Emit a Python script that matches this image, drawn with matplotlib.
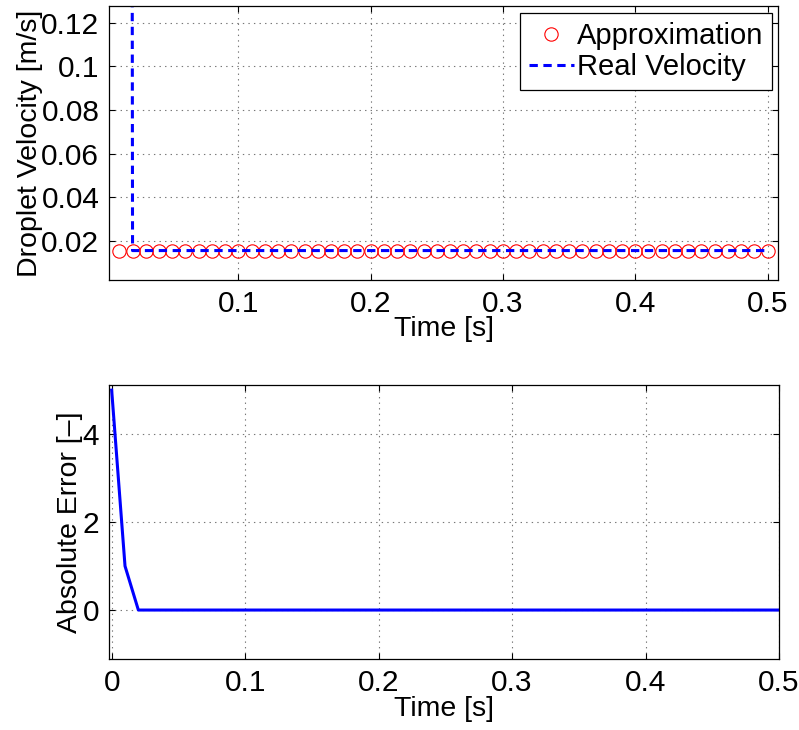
import numpy as np
import matplotlib
matplotlib.use("Agg")
import matplotlib.pyplot as plt

# top plot: approximation vs real velocity
t_top = [0.01, 0.02, 0.03, 0.04, 0.05, 0.06, 0.07, 0.08, 0.09, 0.10,
         0.11, 0.12, 0.13, 0.14, 0.15, 0.16, 0.17, 0.18, 0.19, 0.20,
         0.21, 0.22, 0.23, 0.24, 0.25, 0.26, 0.27, 0.28, 0.29, 0.30,
         0.31, 0.32, 0.33, 0.34, 0.35, 0.36, 0.37, 0.38, 0.39, 0.40,
         0.41, 0.42, 0.43, 0.44, 0.45, 0.46, 0.47, 0.48, 0.49, 0.50]
approx_vel = [0.0155] * 50
real_vel = [5.0] + [0.0155] * 49

# bottom plot: absolute error
t_err = [0.0] + t_top
abs_err = [5.0, 1.0] + [0.0] * 49

top_yticks = [0.02, 0.04, 0.06, 0.08, 0.1, 0.12]
top_ylabels = ["0.02", "0.04", "0.06", "0.08", "0.1", "0.12"]
top_xticks = [0.1, 0.2, 0.3, 0.4, 0.5]
top_xlabels = ["0.1", "0.2", "0.3", "0.4", "0.5"]
bot_xticks = [0, 0.1, 0.2, 0.3, 0.4, 0.5]
bot_xlabels = ["0", "0.1", "0.2", "0.3", "0.4", "0.5"]
bot_yticks = [0, 2, 4]
bot_ylabels = ["0", "2", "4"]

plt.rcParams['font.family'] = ['Liberation Sans', 'DejaVu Sans']
plt.rcParams['font.size'] = 21
plt.rcParams['lines.scale_dashes'] = False

fig = plt.figure(figsize=(7.99, 7.30), dpi=100)
W, H = 799, 730


def style(ax):
    ax.tick_params(direction='in', length=4, width=0.8, top=True, right=True,
                   pad=7, labelsize=21.5)
    for s in ax.spines.values():
        s.set_linewidth(0.9)
    ax.grid(True, linestyle=(0, (1, 3)), color='#777777', linewidth=0.8)
    ax.set_axisbelow(True)


ax1 = fig.add_axes([109/W, (H-280)/H, 669.5/W, 274/H])
ax1.plot(t_top, approx_vel, 'o', markerfacecolor='none', markeredgecolor='red',
         markersize=9.6, markeredgewidth=0.8, label='Approximation')
ax1.plot(t_top, real_vel, color='blue', linewidth=2.2, dashes=(6, 4),
         label='Real Velocity')
ax1.set_xlim(0.0022, 0.5083)
ax1.set_ylim(0.002, 0.1277)
ax1.set_xticks(top_xticks)
ax1.set_xticklabels(top_xlabels)
ax1.set_yticks(top_yticks)
ax1.set_yticklabels(top_ylabels)
ax1.set_xlabel("Time [s]", labelpad=-1, fontsize=20.5)
ax1.set_ylabel("Droplet Velocity [m/s]", labelpad=-1, fontsize=20.5)
style(ax1)
leg = ax1.legend(loc='upper right', bbox_to_anchor=(0.9903, 0.9745),
                 borderaxespad=0, fancybox=False, framealpha=1, edgecolor='black',
                 handlelength=1.55, handletextpad=0.1, labelspacing=0.12,
                 borderpad=0.3, fontsize=21)
leg.get_frame().set_linewidth(0.9)

ax2 = fig.add_axes([109/W, (H-659.3)/H, 670/W, 274/H])
ax2.plot(t_err, abs_err, color='blue', linewidth=2.2)
ax2.set_xlim(-0.002, 0.5)
ax2.set_ylim(-1.12, 5.11)
ax2.set_xticks(bot_xticks)
ax2.set_xticklabels(bot_xlabels)
ax2.set_yticks(bot_yticks)
ax2.set_yticklabels(bot_ylabels)
ax2.set_xlabel("Time [s]", labelpad=-1, fontsize=20.5)
ax2.set_ylabel("Absolute Error [\u2013]", labelpad=0, fontsize=20.5)
style(ax2)

fig.savefig("out.png", dpi=100)
